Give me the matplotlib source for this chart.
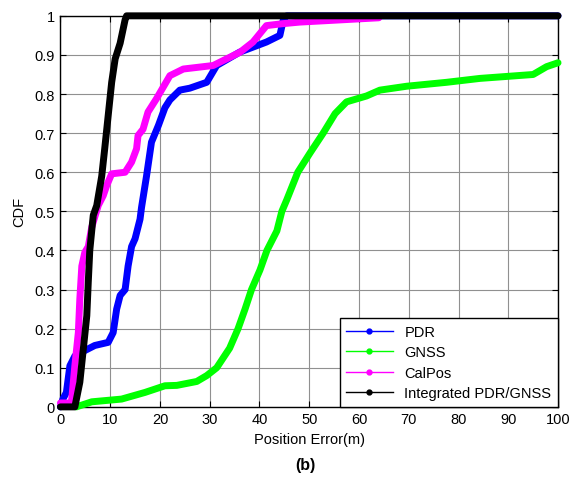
import matplotlib.pyplot as plt
from matplotlib.lines import Line2D

plt.rcParams['font.family'] = ['Liberation Sans', 'DejaVu Sans']

# CDF curves (x = position error in m, y = CDF)
pdr_x = [0, 0.5, 1.2, 1.9, 2.9, 4.9, 6.9, 9.6, 10.6, 11.3, 12, 13, 13.6, 14.3, 15, 16,
         16.3, 17.3, 18.3, 19.7, 21, 22, 24, 26, 29.4, 31.4, 36, 41.4, 44.1, 44.8, 45.5, 100]
pdr_y = [0, 0.02, 0.037, 0.105, 0.13, 0.144, 0.157, 0.165, 0.19, 0.25, 0.285, 0.30, 0.36,
         0.41, 0.43, 0.48, 0.51, 0.59, 0.677, 0.72, 0.765, 0.785, 0.81, 0.815, 0.83, 0.873,
         0.907, 0.933, 0.95, 0.99, 1.0, 1.0]

gnss_x = [3.2, 6.3, 12.3, 17, 21, 23.4, 27.4, 29.4, 31.4, 34, 35.7, 37.1, 38.4, 40.1,
          41.5, 43.5, 44.5, 45.5, 47.7, 50.2, 52.8, 55.2, 57.5, 61.5, 64.2, 69.6, 77.6,
          84.3, 95, 97.7, 100]
gnss_y = [0, 0.013, 0.02, 0.037, 0.054, 0.055, 0.065, 0.08, 0.1, 0.15, 0.2, 0.25, 0.3,
          0.35, 0.4, 0.45, 0.5, 0.53, 0.6, 0.65, 0.7, 0.75, 0.78, 0.795, 0.81, 0.82, 0.83,
          0.84, 0.85, 0.87, 0.88]

calpos_x = [0, 2.2, 2.9, 3.6, 3.9, 4.3, 4.9, 5.6, 6.3, 7.6, 8.6, 9.3, 10.3, 13, 14.3,
            15.3, 15.6, 16.6, 17.6, 19.3, 22, 24.7, 30.7, 36.1, 38.7, 41.4, 44.7, 48.1, 64]
calpos_y = [0.01, 0.01, 0.105, 0.19, 0.276, 0.36, 0.395, 0.41, 0.46, 0.515, 0.54, 0.566,
            0.596, 0.60, 0.626, 0.66, 0.694, 0.71, 0.754, 0.788, 0.847, 0.864, 0.873,
            0.907, 0.933, 0.975, 0.98, 0.984, 0.995]

integ_x = [0, 2.9, 3.9, 4.6, 5.3, 5.6, 5.9, 6.6, 7.3, 8.3, 8.9, 9.6, 10.3, 11, 12, 13,
           13.3, 100]
integ_y = [0, 0, 0.063, 0.148, 0.233, 0.32, 0.40, 0.49, 0.515, 0.59, 0.66, 0.745, 0.83,
           0.89, 0.93, 0.99, 1.0, 1.0]

names = ['PDR', 'GNSS', 'CalPos', 'Integrated PDR/GNSS']
colors = ['#0000ff', '#00ff00', '#ff00ff', '#000000']
series = [(pdr_x, pdr_y), (gnss_x, gnss_y), (calpos_x, calpos_y), (integ_x, integ_y)]

fig = plt.figure(figsize=(5.7, 4.81), dpi=100)
ax = fig.add_axes([0.106, 0.152, 0.873, 0.813])

for (xs, ys), c in zip(series, colors):
    ax.plot(xs, ys, color=c, lw=5, solid_joinstyle='round', solid_capstyle='round',
            clip_on=False, zorder=3)

ax.set_xlim(0, 100)
ax.set_ylim(0, 1)
ax.set_xticks(range(0, 101, 10))
ax.set_yticks([i / 10 for i in range(11)])
ax.set_yticklabels(['0', '0.1', '0.2', '0.3', '0.4', '0.5', '0.6', '0.7', '0.8', '0.9', '1'])
ax.grid(True, color='#909090', lw=0.8)
ax.tick_params(direction='in', length=4, top=True, right=True, labelsize=10.5, pad=4)
for s in ax.spines.values():
    s.set_linewidth(1)
ax.set_xlabel('Position Error(m)', fontsize=10.5, labelpad=4)
ax.set_ylabel('CDF', fontsize=10.5, labelpad=6)

handles = [Line2D([], [], color=c, lw=1, marker='.', markersize=7) for c in colors]
leg = ax.legend(handles, names, loc='lower right', fontsize=10.5, borderaxespad=0,
                fancybox=False, framealpha=1, edgecolor='black', handlelength=3.2,
                labelspacing=0.45, borderpad=0.45)
leg.get_frame().set_linewidth(1)
leg.set_zorder(5)

fig.text(0.535, 0.022, '(b)', fontsize=11.5, fontweight='bold', ha='center')

fig.savefig('out.png', dpi=100)
